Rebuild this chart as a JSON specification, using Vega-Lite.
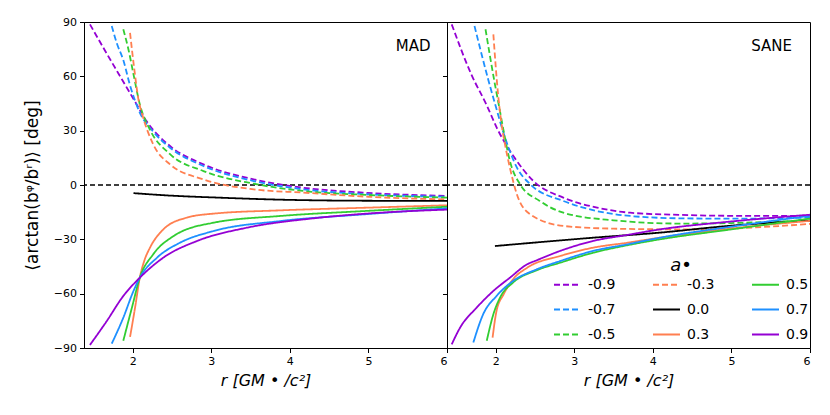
{
  "$schema": "https://vega.github.io/schema/vega-lite/v6.json",
  "padding": {"left": 22, "top": 15, "right": 10, "bottom": 5},
  "bounds": "flush",
  "spacing": 0,
  "config": {
    "font": "DejaVu Sans",
    "view": {"stroke": "black", "strokeWidth": 1},
    "axis": {
      "grid": false, "domainColor": "black", "tickColor": "black", "labelColor": "black", "titleColor": "black",
      "labelFontSize": 11, "titleFontSize": 16, "titleFontWeight": "normal", "tickSize": 4.5, "labelPadding": 3
    },
    "legend": {
      "orient": "none", "legendX": 106, "legendY": 235, "columns": 3, "padding": 0,
      "symbolType": "stroke", "symbolSize": 729, "symbolStrokeWidth": 2, "labelFontSize": 14, "labelOffset": 6,
      "columnPadding": 33, "rowPadding": 3, "titleFontSize": 18, "titleFontStyle": "italic", "titleFontWeight": "normal",
      "titleAnchor": "middle", "titlePadding": -5, "labelColor": "black", "titleColor": "black"
    }
  },
  "datasets": {
    "curves": [
      {"m": "MAD", "a": "-0.9", "r": 1.456, "v": 88.7}, {"m": "MAD", "a": "-0.9", "r": 1.65, "v": 74}, {"m": "MAD", "a": "-0.9", "r": 1.86, "v": 58.5},
      {"m": "MAD", "a": "-0.9", "r": 2.01, "v": 47.5}, {"m": "MAD", "a": "-0.9", "r": 2.18, "v": 35}, {"m": "MAD", "a": "-0.9", "r": 2.475, "v": 21.5},
      {"m": "MAD", "a": "-0.9", "r": 2.9, "v": 11.4}, {"m": "MAD", "a": "-0.9", "r": 3.54, "v": 3.1}, {"m": "MAD", "a": "-0.9", "r": 4.17, "v": -1.5},
      {"m": "MAD", "a": "-0.9", "r": 4.93, "v": -4.2}, {"m": "MAD", "a": "-0.9", "r": 6, "v": -6},

      {"m": "MAD", "a": "-0.7", "r": 1.733, "v": 87.8}, {"m": "MAD", "a": "-0.7", "r": 1.8, "v": 78}, {"m": "MAD", "a": "-0.7", "r": 1.88, "v": 69},
      {"m": "MAD", "a": "-0.7", "r": 1.966, "v": 55}, {"m": "MAD", "a": "-0.7", "r": 2.09, "v": 40}, {"m": "MAD", "a": "-0.7", "r": 2.26, "v": 29.5},
      {"m": "MAD", "a": "-0.7", "r": 2.475, "v": 20.6}, {"m": "MAD", "a": "-0.7", "r": 2.9, "v": 10.5}, {"m": "MAD", "a": "-0.7", "r": 3.54, "v": 2.2},
      {"m": "MAD", "a": "-0.7", "r": 4.17, "v": -2.4}, {"m": "MAD", "a": "-0.7", "r": 4.93, "v": -5}, {"m": "MAD", "a": "-0.7", "r": 6, "v": -6.5},

      {"m": "MAD", "a": "-0.5", "r": 1.88, "v": 86}, {"m": "MAD", "a": "-0.5", "r": 1.95, "v": 74}, {"m": "MAD", "a": "-0.5", "r": 2.01, "v": 61.1},
      {"m": "MAD", "a": "-0.5", "r": 2.09, "v": 44.6}, {"m": "MAD", "a": "-0.5", "r": 2.22, "v": 30.5}, {"m": "MAD", "a": "-0.5", "r": 2.475, "v": 17},
      {"m": "MAD", "a": "-0.5", "r": 2.9, "v": 7.7}, {"m": "MAD", "a": "-0.5", "r": 3.54, "v": 0.7}, {"m": "MAD", "a": "-0.5", "r": 4.17, "v": -3.3},
      {"m": "MAD", "a": "-0.5", "r": 5, "v": -5.5}, {"m": "MAD", "a": "-0.5", "r": 6, "v": -7},

      {"m": "MAD", "a": "-0.3", "r": 1.966, "v": 84}, {"m": "MAD", "a": "-0.3", "r": 2.02, "v": 64}, {"m": "MAD", "a": "-0.3", "r": 2.07, "v": 48},
      {"m": "MAD", "a": "-0.3", "r": 2.135, "v": 37}, {"m": "MAD", "a": "-0.3", "r": 2.26, "v": 22.5}, {"m": "MAD", "a": "-0.3", "r": 2.475, "v": 11.4},
      {"m": "MAD", "a": "-0.3", "r": 2.9, "v": 3.1}, {"m": "MAD", "a": "-0.3", "r": 3.54, "v": -2.4}, {"m": "MAD", "a": "-0.3", "r": 4.17, "v": -4.2},
      {"m": "MAD", "a": "-0.3", "r": 5, "v": -6.5}, {"m": "MAD", "a": "-0.3", "r": 6, "v": -8},

      {"m": "MAD", "a": "0.0", "r": 2.01, "v": -4.5}, {"m": "MAD", "a": "0.0", "r": 2.5, "v": -5.9}, {"m": "MAD", "a": "0.0", "r": 3.11, "v": -7},
      {"m": "MAD", "a": "0.0", "r": 3.88, "v": -8.1}, {"m": "MAD", "a": "0.0", "r": 4.39, "v": -8.5}, {"m": "MAD", "a": "0.0", "r": 5, "v": -8.7},
      {"m": "MAD", "a": "0.0", "r": 6, "v": -8.8},

      {"m": "MAD", "a": "0.3", "r": 1.966, "v": -83.9}, {"m": "MAD", "a": "0.3", "r": 2.03, "v": -67.7}, {"m": "MAD", "a": "0.3", "r": 2.09, "v": -51.2},
      {"m": "MAD", "a": "0.3", "r": 2.15, "v": -41.5}, {"m": "MAD", "a": "0.3", "r": 2.22, "v": -34.6}, {"m": "MAD", "a": "0.3", "r": 2.39, "v": -24.5},
      {"m": "MAD", "a": "0.3", "r": 2.69, "v": -18}, {"m": "MAD", "a": "0.3", "r": 3.03, "v": -15.8}, {"m": "MAD", "a": "0.3", "r": 3.88, "v": -14},
      {"m": "MAD", "a": "0.3", "r": 5, "v": -12.5}, {"m": "MAD", "a": "0.3", "r": 6, "v": -11.2},

      {"m": "MAD", "a": "0.5", "r": 1.88, "v": -86}, {"m": "MAD", "a": "0.5", "r": 1.99, "v": -67.7}, {"m": "MAD", "a": "0.5", "r": 2.09, "v": -51.2},
      {"m": "MAD", "a": "0.5", "r": 2.26, "v": -38.3}, {"m": "MAD", "a": "0.5", "r": 2.52, "v": -28.2}, {"m": "MAD", "a": "0.5", "r": 3.03, "v": -20.8},
      {"m": "MAD", "a": "0.5", "r": 3.88, "v": -17.1}, {"m": "MAD", "a": "0.5", "r": 4.94, "v": -14.4}, {"m": "MAD", "a": "0.5", "r": 6, "v": -12},

      {"m": "MAD", "a": "0.7", "r": 1.733, "v": -87.6}, {"m": "MAD", "a": "0.7", "r": 1.88, "v": -73.3}, {"m": "MAD", "a": "0.7", "r": 2.01, "v": -58.5},
      {"m": "MAD", "a": "0.7", "r": 2.09, "v": -51.2}, {"m": "MAD", "a": "0.7", "r": 2.31, "v": -40.1}, {"m": "MAD", "a": "0.7", "r": 2.6, "v": -31.9},
      {"m": "MAD", "a": "0.7", "r": 3.03, "v": -25.4}, {"m": "MAD", "a": "0.7", "r": 3.88, "v": -19.9}, {"m": "MAD", "a": "0.7", "r": 4.94, "v": -16.2},
      {"m": "MAD", "a": "0.7", "r": 6, "v": -12.9},

      {"m": "MAD", "a": "0.9", "r": 1.456, "v": -88.3}, {"m": "MAD", "a": "0.9", "r": 1.67, "v": -75.1}, {"m": "MAD", "a": "0.9", "r": 1.88, "v": -61.3},
      {"m": "MAD", "a": "0.9", "r": 2.09, "v": -51.2}, {"m": "MAD", "a": "0.9", "r": 2.39, "v": -40.1}, {"m": "MAD", "a": "0.9", "r": 2.82, "v": -30.9},
      {"m": "MAD", "a": "0.9", "r": 3.45, "v": -23.6}, {"m": "MAD", "a": "0.9", "r": 4.3, "v": -18.4}, {"m": "MAD", "a": "0.9", "r": 5.15, "v": -15.3},
      {"m": "MAD", "a": "0.9", "r": 6, "v": -13.6},

      {"m": "SANE", "a": "-0.9", "r": 1.44, "v": 88.7}, {"m": "SANE", "a": "-0.9", "r": 1.69, "v": 61}, {"m": "SANE", "a": "-0.9", "r": 1.886, "v": 44},
      {"m": "SANE", "a": "-0.9", "r": 2.02, "v": 31}, {"m": "SANE", "a": "-0.9", "r": 2.225, "v": 16}, {"m": "SANE", "a": "-0.9", "r": 2.48, "v": 2.2},
      {"m": "SANE", "a": "-0.9", "r": 2.86, "v": -7}, {"m": "SANE", "a": "-0.9", "r": 3.29, "v": -12.5}, {"m": "SANE", "a": "-0.9", "r": 3.71, "v": -15.3},
      {"m": "SANE", "a": "-0.9", "r": 4.35, "v": -16.5}, {"m": "SANE", "a": "-0.9", "r": 5, "v": -17}, {"m": "SANE", "a": "-0.9", "r": 6, "v": -17},

      {"m": "SANE", "a": "-0.7", "r": 1.73, "v": 87.8}, {"m": "SANE", "a": "-0.7", "r": 1.906, "v": 58}, {"m": "SANE", "a": "-0.7", "r": 1.99, "v": 45},
      {"m": "SANE", "a": "-0.7", "r": 2.12, "v": 26}, {"m": "SANE", "a": "-0.7", "r": 2.27, "v": 9.6}, {"m": "SANE", "a": "-0.7", "r": 2.44, "v": 0.4},
      {"m": "SANE", "a": "-0.7", "r": 2.86, "v": -8.8}, {"m": "SANE", "a": "-0.7", "r": 3.29, "v": -14.4}, {"m": "SANE", "a": "-0.7", "r": 3.71, "v": -17.1},
      {"m": "SANE", "a": "-0.7", "r": 4.35, "v": -18.4}, {"m": "SANE", "a": "-0.7", "r": 5, "v": -18.6}, {"m": "SANE", "a": "-0.7", "r": 6, "v": -18},

      {"m": "SANE", "a": "-0.5", "r": 1.87, "v": 86}, {"m": "SANE", "a": "-0.5", "r": 1.99, "v": 55.6}, {"m": "SANE", "a": "-0.5", "r": 2.03, "v": 46.4},
      {"m": "SANE", "a": "-0.5", "r": 2.1, "v": 30}, {"m": "SANE", "a": "-0.5", "r": 2.18, "v": 13.3}, {"m": "SANE", "a": "-0.5", "r": 2.31, "v": 0.4},
      {"m": "SANE", "a": "-0.5", "r": 2.56, "v": -8.8}, {"m": "SANE", "a": "-0.5", "r": 2.86, "v": -15.3}, {"m": "SANE", "a": "-0.5", "r": 3.5, "v": -19.5},
      {"m": "SANE", "a": "-0.5", "r": 4.35, "v": -21.3}, {"m": "SANE", "a": "-0.5", "r": 5, "v": -21}, {"m": "SANE", "a": "-0.5", "r": 6, "v": -19.5},

      {"m": "SANE", "a": "-0.3", "r": 1.97, "v": 83.2}, {"m": "SANE", "a": "-0.3", "r": 2.03, "v": 50}, {"m": "SANE", "a": "-0.3", "r": 2.08, "v": 32},
      {"m": "SANE", "a": "-0.3", "r": 2.12, "v": 22}, {"m": "SANE", "a": "-0.3", "r": 2.18, "v": 9.6}, {"m": "SANE", "a": "-0.3", "r": 2.27, "v": -5.2},
      {"m": "SANE", "a": "-0.3", "r": 2.44, "v": -16.2}, {"m": "SANE", "a": "-0.3", "r": 2.86, "v": -22.6}, {"m": "SANE", "a": "-0.3", "r": 3.5, "v": -24.1},
      {"m": "SANE", "a": "-0.3", "r": 4.3, "v": -24.5}, {"m": "SANE", "a": "-0.3", "r": 5, "v": -24}, {"m": "SANE", "a": "-0.3", "r": 6, "v": -21.5},

      {"m": "SANE", "a": "0.0", "r": 1.99, "v": -33.7}, {"m": "SANE", "a": "0.0", "r": 3.24, "v": -29.1}, {"m": "SANE", "a": "0.0", "r": 4.09, "v": -26.3},
      {"m": "SANE", "a": "0.0", "r": 4.96, "v": -22.6}, {"m": "SANE", "a": "0.0", "r": 6, "v": -19.6},

      {"m": "SANE", "a": "0.3", "r": 1.96, "v": -84.3}, {"m": "SANE", "a": "0.3", "r": 2.01, "v": -69.6}, {"m": "SANE", "a": "0.3", "r": 2.1, "v": -60.4},
      {"m": "SANE", "a": "0.3", "r": 2.22, "v": -52.1}, {"m": "SANE", "a": "0.3", "r": 2.4, "v": -45.7}, {"m": "SANE", "a": "0.3", "r": 2.82, "v": -39.2},
      {"m": "SANE", "a": "0.3", "r": 3.24, "v": -34.6}, {"m": "SANE", "a": "0.3", "r": 3.67, "v": -31.9}, {"m": "SANE", "a": "0.3", "r": 4.09, "v": -29.1},
      {"m": "SANE", "a": "0.3", "r": 5, "v": -24}, {"m": "SANE", "a": "0.3", "r": 6, "v": -19.8},

      {"m": "SANE", "a": "0.5", "r": 1.886, "v": -86}, {"m": "SANE", "a": "0.5", "r": 1.97, "v": -71.4}, {"m": "SANE", "a": "0.5", "r": 2.055, "v": -62.2},
      {"m": "SANE", "a": "0.5", "r": 2.22, "v": -53.9}, {"m": "SANE", "a": "0.5", "r": 2.52, "v": -47.1}, {"m": "SANE", "a": "0.5", "r": 2.82, "v": -42.9},
      {"m": "SANE", "a": "0.5", "r": 3.24, "v": -37.4}, {"m": "SANE", "a": "0.5", "r": 3.67, "v": -33.3}, {"m": "SANE", "a": "0.5", "r": 4.09, "v": -30},
      {"m": "SANE", "a": "0.5", "r": 5, "v": -24.5}, {"m": "SANE", "a": "0.5", "r": 6, "v": -18.5},

      {"m": "SANE", "a": "0.7", "r": 1.715, "v": -87}, {"m": "SANE", "a": "0.7", "r": 1.84, "v": -71.4}, {"m": "SANE", "a": "0.7", "r": 2.01, "v": -61.3},
      {"m": "SANE", "a": "0.7", "r": 2.22, "v": -53}, {"m": "SANE", "a": "0.7", "r": 2.52, "v": -46.6}, {"m": "SANE", "a": "0.7", "r": 2.82, "v": -42},
      {"m": "SANE", "a": "0.7", "r": 3.24, "v": -36.4}, {"m": "SANE", "a": "0.7", "r": 3.67, "v": -32.8}, {"m": "SANE", "a": "0.7", "r": 4.09, "v": -29.1},
      {"m": "SANE", "a": "0.7", "r": 5, "v": -23}, {"m": "SANE", "a": "0.7", "r": 6, "v": -17},

      {"m": "SANE", "a": "0.9", "r": 1.44, "v": -88}, {"m": "SANE", "a": "0.9", "r": 1.546, "v": -78.8}, {"m": "SANE", "a": "0.9", "r": 1.758, "v": -67.7},
      {"m": "SANE", "a": "0.9", "r": 1.97, "v": -58.5}, {"m": "SANE", "a": "0.9", "r": 2.18, "v": -51.2}, {"m": "SANE", "a": "0.9", "r": 2.4, "v": -43.8},
      {"m": "SANE", "a": "0.9", "r": 2.52, "v": -41.6}, {"m": "SANE", "a": "0.9", "r": 2.82, "v": -36.4}, {"m": "SANE", "a": "0.9", "r": 3.24, "v": -30.9},
      {"m": "SANE", "a": "0.9", "r": 3.67, "v": -27.6}, {"m": "SANE", "a": "0.9", "r": 4.09, "v": -24.5}, {"m": "SANE", "a": "0.9", "r": 4.96, "v": -20.3},
      {"m": "SANE", "a": "0.9", "r": 6, "v": -16.4}
    ]
  },
  "resolve": {"scale": {"color": "independent", "strokeDash": "independent"}, "legend": {"color": "independent", "strokeDash": "independent"}},
  "hconcat": [
    {
      "width": 363,
      "height": 326,
      "layer": [
        {
          "data": {"values": [{}]},
          "mark": {"type": "rule", "color": "black", "strokeWidth": 1.3, "strokeDash": [5, 3]},
          "encoding": {"y": {"datum": 0}}
        },
        {
          "data": {"name": "curves"},
          "transform": [{"filter": "datum.m === 'MAD'"}],
          "mark": {"type": "line", "strokeWidth": 1.8, "interpolate": "monotone", "clip": true},
          "encoding": {
            "x": {"field": "r", "type": "quantitative", "scale": {"domain": [1.38, 6], "nice": false, "zero": false},
                  "axis": {"values": [2, 3, 4, 5, 6], "format": "d", "title": "r [GM • /c²]", "titleFontSize": 16, "titleFontStyle": "italic", "titlePadding": 6}},
            "y": {"field": "v", "type": "quantitative", "scale": {"domain": [-90, 90], "nice": false},
                  "axis": {"values": [-90, -60, -30, 0, 30, 60, 90], "title": "⟨arctan(bᵠ/bʳ)⟩ [deg]", "titleFontSize": 17, "titlePadding": 12}},
            "color": {"field": "a", "type": "nominal", "legend": null,
                      "scale": {"domain": ["-0.9", "-0.7", "-0.5", "-0.3", "0.0", "0.3", "0.5", "0.7", "0.9"],
                                "range": ["#9400D3", "#1E90FF", "#32CD32", "#FF7F50", "#000000", "#FF7F50", "#32CD32", "#1E90FF", "#9400D3"]}},
            "strokeDash": {"field": "a", "type": "nominal", "legend": null,
                           "scale": {"domain": ["-0.9", "-0.7", "-0.5", "-0.3", "0.0", "0.3", "0.5", "0.7", "0.9"],
                                     "range": [[6, 3], [6, 3], [6, 3], [6, 3], [1, 0], [1, 0], [1, 0], [1, 0], [1, 0]]}}
          }
        },
        {
          "data": {"values": [{"t": "MAD"}]},
          "mark": {"type": "text", "align": "right", "baseline": "middle", "fontSize": 15, "color": "black"},
          "encoding": {"x": {"datum": 5.79}, "y": {"datum": 76.7}, "text": {"field": "t"}}
        }
      ]
    },
    {
      "width": 363,
      "height": 326,
      "layer": [
        {
          "data": {"values": [{}]},
          "mark": {"type": "rule", "color": "black", "strokeWidth": 1.3, "strokeDash": [5, 3]},
          "encoding": {"y": {"datum": 0}}
        },
        {
          "data": {"name": "curves"},
          "transform": [{"filter": "datum.m === 'SANE'"}],
          "mark": {"type": "line", "strokeWidth": 1.8, "interpolate": "monotone", "clip": true},
          "encoding": {
            "x": {"field": "r", "type": "quantitative", "scale": {"domain": [1.38, 6], "nice": false, "zero": false},
                  "axis": {"values": [2, 3, 4, 5, 6], "format": "d", "title": "r [GM • /c²]", "titleFontSize": 16, "titleFontStyle": "italic", "titlePadding": 6}},
            "y": {"field": "v", "type": "quantitative", "scale": {"domain": [-90, 90], "nice": false},
                  "axis": {"values": [-90, -60, -30, 0, 30, 60, 90], "labels": false, "title": null}},
            "color": {"field": "a", "type": "nominal", "title": "a•          ",
                      "scale": {"domain": ["-0.9", "-0.7", "-0.5", "-0.3", "0.0", "0.3", "0.5", "0.7", "0.9"],
                                "range": ["#9400D3", "#1E90FF", "#32CD32", "#FF7F50", "#000000", "#FF7F50", "#32CD32", "#1E90FF", "#9400D3"]}},
            "strokeDash": {"field": "a", "type": "nominal", "title": "a•          ",
                           "scale": {"domain": ["-0.9", "-0.7", "-0.5", "-0.3", "0.0", "0.3", "0.5", "0.7", "0.9"],
                                     "range": [[6, 3], [6, 3], [6, 3], [6, 3], [1, 0], [1, 0], [1, 0], [1, 0], [1, 0]]}}
          }
        },
        {
          "data": {"values": [{"t": "SANE"}]},
          "mark": {"type": "text", "align": "right", "baseline": "middle", "fontSize": 15, "color": "black"},
          "encoding": {"x": {"datum": 5.77}, "y": {"datum": 76.7}, "text": {"field": "t"}}
        }
      ]
    }
  ]
}
